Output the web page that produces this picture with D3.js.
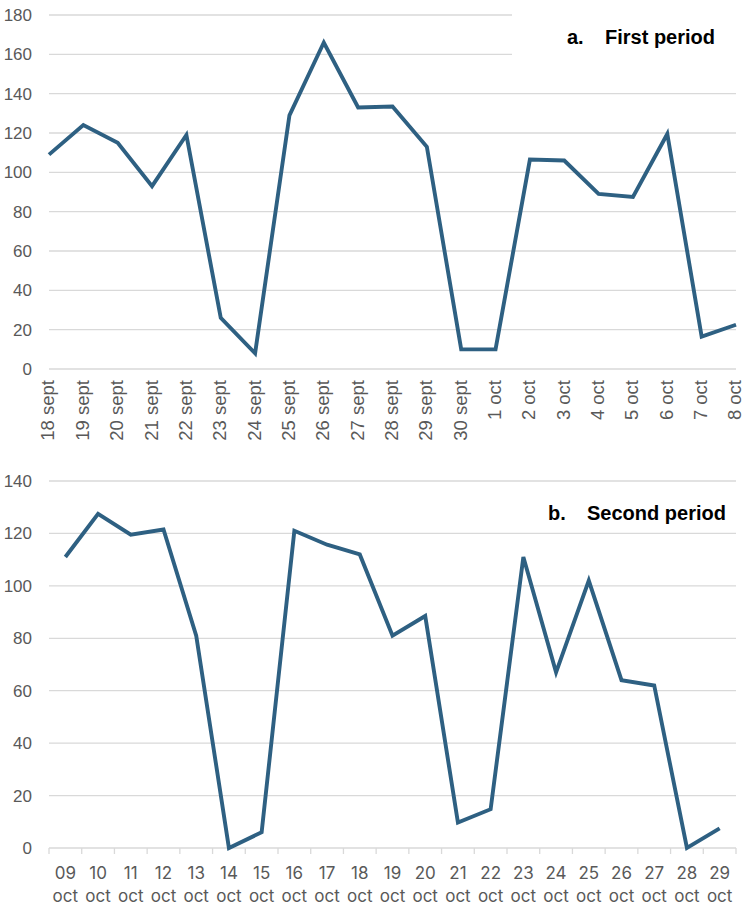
<!DOCTYPE html>
<html>
<head>
<meta charset="utf-8">
<script src="https://cdn.jsdelivr.net/npm/d3@7"></script>
<style>
  body { margin: 0; background: #fff; }
  svg { display: block; font-family: "Liberation Sans", Arial, sans-serif; }
</style>
</head>
<body>
<div id="chart"></div>
<script>
// first period data
const daysA = ["18 sept", "19 sept", "20 sept", "21 sept", "22 sept", "23 sept", "24 sept",
  "25 sept", "26 sept", "27 sept", "28 sept", "29 sept", "30 sept", "1 oct", "2 oct",
  "3 oct", "4 oct", "5 oct", "6 oct", "7 oct", "8 oct"];
const valuesA = [109, 124, 115, 93, 119, 26, 8, 129, 166, 133, 133.5, 113, 10, 10,
  106.5, 106, 89, 87.5, 119.5, 16.5, 22.5];
const ticksA = [0, 20, 40, 60, 80, 100, 120, 140, 160, 180];

// second period data
const daysB = ["09", "10", "11", "12", "13", "14", "15", "16", "17", "18", "19", "20",
  "21", "22", "23", "24", "25", "26", "27", "28", "29"];
const valuesB = [111, 127.5, 119.5, 121.5, 81, 0, 6, 121, 115.7, 112, 81, 88.5,
  9.7, 14.8, 111, 67, 102, 64, 62, 0, 7.5];
const ticksB = [0, 20, 40, 60, 80, 100, 120, 140];

const width = 749;
const height = 911;
const lineColor = "#2e6082";
const gridColor = "#d9d9d9";
const labelColor = "#595959";

const svg = d3.select("#chart")
    .append("svg")
    .attr("width", width)
    .attr("height", height);

function drawGrid(g, y, ticks, x0, x1) {
    g.selectAll(".grid")
        .data(ticks)
        .enter()
        .append("line")
        .attr("x1", x0)
        .attr("x2", x1)
        .attr("y1", d => y(d))
        .attr("y2", d => y(d))
        .attr("stroke", gridColor)
        .attr("stroke-width", 1.3);

    g.selectAll(".ylab")
        .data(ticks)
        .enter()
        .append("text")
        .attr("x", 32)
        .attr("y", d => y(d))
        .attr("dy", "0.35em")
        .attr("text-anchor", "end")
        .attr("fill", labelColor)
        .style("font-size", "17px")
        .text(d => d);
}

function drawLine(g, x, y, cats, vals) {
    const line = d3.line()
        .x((d, i) => x(cats[i]))
        .y(d => y(d));
    g.append("path")
        .datum(vals)
        .attr("d", line)
        .attr("fill", "none")
        .attr("stroke", lineColor)
        .attr("stroke-width", 3.9)
        .attr("stroke-linejoin", "miter");
}

// ---- chart a ----
const gA = svg.append("g");
const xA = d3.scalePoint().domain(daysA).range([49, 736]);
const yA = d3.scaleLinear().domain([0, 180]).range([369, 15]);

drawGrid(gA, yA, ticksA, 49, 736);
// white box behind the title, cuts the top gridlines
gA.append("rect")
    .attr("x", 512).attr("y", 5)
    .attr("width", 237).attr("height", 70)
    .attr("fill", "#fff");
drawLine(gA, xA, yA, daysA, valuesA);

gA.selectAll(".xlab")
    .data(daysA)
    .enter()
    .append("text")
    .attr("transform", d => `translate(${xA(d) - 1},380) rotate(-90)`)
    .attr("dy", "0.35em")
    .attr("text-anchor", "end")
    .attr("fill", labelColor)
    .style("font-size", "18.5px")
    .text(d => d);

const titleA = gA.append("text")
    .attr("x", 567).attr("y", 44)
    .style("font-size", "20px")
    .style("font-weight", "bold")
    .attr("fill", "#000");
titleA.append("tspan").text("a.");
titleA.append("tspan").attr("x", 605).text("First period");

// ---- chart b ----
const gB = svg.append("g");
const xB = d3.scaleBand().domain(daysB).range([49, 736]);
const yB = d3.scaleLinear().domain([0, 140]).range([848, 481]);

drawGrid(gB, yB, ticksB, 49, 736);

// category tick marks between days
const edges = daysB.map(d => xB(d)).concat([736]);
gB.selectAll(".tick")
    .data(edges)
    .enter()
    .append("line")
    .attr("x1", d => d).attr("x2", d => d)
    .attr("y1", yB(0)).attr("y2", yB(0) + 6)
    .attr("stroke", gridColor)
    .attr("stroke-width", 1.3);

drawLine(gB, d => xB(d) + xB.bandwidth() / 2, yB, daysB, valuesB);

const labB = gB.selectAll(".xlab")
    .data(daysB)
    .enter()
    .append("text")
    .attr("text-anchor", "middle")
    .attr("fill", labelColor)
    .style("font-family", "Inter, sans-serif")
    .style("font-size", "17px");
labB.append("tspan")
    .attr("x", d => xB(d) + xB.bandwidth() / 2)
    .attr("y", 879)
    .text(d => d);
labB.append("tspan")
    .attr("x", d => xB(d) + xB.bandwidth() / 2)
    .attr("y", 902)
    .text("oct");

const titleB = gB.append("text")
    .attr("x", 548).attr("y", 520)
    .style("font-size", "20px")
    .style("font-weight", "bold")
    .attr("fill", "#000");
titleB.append("tspan").text("b.");
titleB.append("tspan").attr("x", 587).text("Second period");
</script>
</body>
</html>
